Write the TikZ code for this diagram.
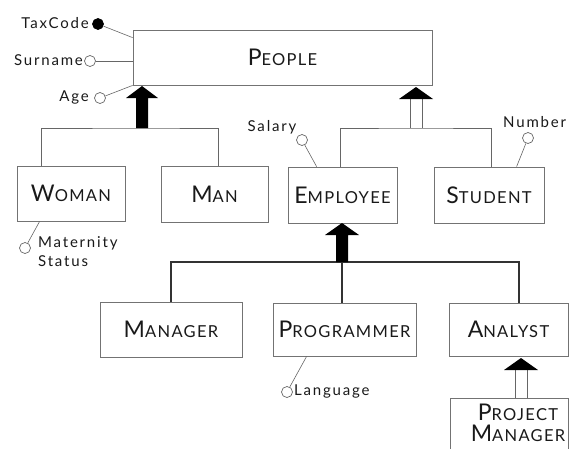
\documentclass[tikz,border=0pt]{standalone}
\usepackage{fontspec}
\setmainfont{Lato}
\newfontfamily\classfont[LetterSpace=8]{Lato}
\newfontfamily\attrfont[LetterSpace=12]{Lato}
\newcommand\smcaps[2]{{\fontsize{23}{21}\selectfont #1}{\fontsize{16.5}{21}\selectfont #2}}
\begin{document}
\begin{tikzpicture}[x=1pt,y=-1pt,
  entity/.style={draw=black!55,line width=0.8pt,rectangle,inner sep=0pt,
    text=black!90,align=center,font=\classfont\fontsize{16.5}{21}\selectfont},
  conn/.style={draw=black!60,line width=0.8pt},
  connb/.style={draw=black!80,line width=1.6pt},
  attr/.style={circle,draw=black!60,line width=0.7pt,fill=white,minimum size=11pt,inner sep=0pt},
  attrk/.style={attr,fill=black,draw=black},
  atext/.style={inner sep=0pt,text=black!90,font=\attrfont\fontsize{15}{19}\selectfont},
  arrowfill/.style={fill=black}]
\useasboundingbox (0,0) rectangle (569,448);
\clip (0,0) rectangle (569,448);

% entities
\node[entity,minimum width=299pt,minimum height=55pt] (people) at (282.5,57.5) {\smcaps{P}{EOPLE}};
\node[entity,minimum width=108pt,minimum height=55pt] (woman) at (71,193.5) {\smcaps{W}{OMAN}};
\node[entity,minimum width=107pt,minimum height=56pt] (man) at (214.5,194.5) {\smcaps{M}{AN}};
\node[entity,minimum width=109pt,minimum height=56pt] (employee) at (342.5,195) {\smcaps{E}{MPLOYEE}};
\node[entity,minimum width=110pt,minimum height=56pt] (student) at (489,195) {\smcaps{S}{TUDENT}};
\node[entity,minimum width=142pt,minimum height=55pt] (manager) at (171,329.5) {\smcaps{M}{ANAGER}};
\node[entity,minimum width=143pt,minimum height=53pt] (programmer) at (344.5,329.5) {\smcaps{P}{ROGRAMMER}};
\node[entity,minimum width=119pt,minimum height=53pt] (analyst) at (508.5,329.5) {\smcaps{A}{NALYST}};
\node[entity,minimum width=118pt,minimum height=70pt] (pm) at (509,433) {};
\node[entity,draw=none,fill=none] (pmtext) at (518,423)
  {\smcaps{P}{ROJECT}\\\smcaps{M}{ANAGER}};

% attributes of PEOPLE
\node[attrk] (taxc) at (98,24) {};
\node[atext,anchor=east] (taxt) at (89,23) {TaxCode};
\node[attr] (surc) at (90,61) {};
\node[atext,anchor=east] (surt) at (83,60) {Surname};
\node[attr] (agec) at (100,98) {};
\node[atext,anchor=east] (aget) at (89,97) {Age};
\draw[conn,line width=0.6pt] (taxc) -- ([yshift=-8pt]people.north west);
\draw[conn,line width=0.6pt] (surc) -- (people.west |- surc);
\draw[conn,line width=0.6pt] (agec) -- (people.south west);

% attribute of WOMAN
\node[attr] (matc) at (25,248) {};
\node[atext,anchor=north west,align=left] (matt) at (38,236) {Maternity\\Status};
\draw[conn,line width=0.6pt] (matc) -- ([xshift=23pt]woman.south west);

% attributes of EMPLOYEE and STUDENT
\node[attr] (salc) at (302,140) {};
\node[atext] (salt) at (272,127) {Salary};
\draw[conn,line width=0.6pt] (salc) -- ([xshift=29pt]employee.north west);
\node[attr] (numc) at (528,138) {};
\node[atext,anchor=west] (numt) at (503,122) {Number};
\draw[conn,line width=0.6pt] (numc) -- ([xshift=83pt]student.north west);

% attribute of PROGRAMMER
\node[attr] (lanc) at (287,392) {};
\node[atext,anchor=west] (lant) at (294,391) {Language};
\draw[conn,line width=0.6pt] (lanc) -- ([xshift=34pt]programmer.south west);

% total generalization of PEOPLE into WOMAN / MAN
\coordinate (j1) at (142,128);
\draw[conn] ([xshift=25pt]woman.north west) |- (j1) -| ([xshift=3.5pt]man.north);
\fill[arrowfill] (j1) ++(-6,0) -- ++(0,-30) -- ++(-10,0) -- ++(16,-12)
  -- ++(16,12) -- ++(-10,0) -- ++(0,30) -- cycle;

% partial generalization of PEOPLE into EMPLOYEE / STUDENT
\coordinate (j2) at (416,128);
\draw[conn] ([xshift=-2pt]employee.north) |- (j2) -| ([xshift=2pt]student.north);
\draw[conn] (j2) ++(-6,0) -- ++(0,-29);
\draw[conn] (j2) ++(6,0) -- ++(0,-29);
\fill[arrowfill] (j2) ++(-17,-29) -- ++(17,-12) -- ++(17,12) -- cycle;

% total generalization of EMPLOYEE
\coordinate (j3) at (342,262);
\draw[connb] (manager.north) |- (j3) -| ([xshift=10.5pt]analyst.north);
\draw[connb] ([xshift=-2.5pt]programmer.north) -- (j3);
\fill[arrowfill] (j3) ++(-6,0) -- ++(0,-27) -- ++(-11,0) -- ++(17,-12)
  -- ++(17,12) -- ++(-11,0) -- ++(0,27) -- cycle;

% partial generalization of ANALYST into PROJECT MANAGER
\coordinate (j4) at (521,398);
\draw[conn] (j4) ++(-6,0) -- ++(0,-28);
\draw[conn] (j4) ++(6,0) -- ++(0,-28);
\fill[arrowfill] (j4) ++(-17,-28) -- ++(17,-12) -- ++(17,12) -- cycle;
\end{tikzpicture}
\end{document}
